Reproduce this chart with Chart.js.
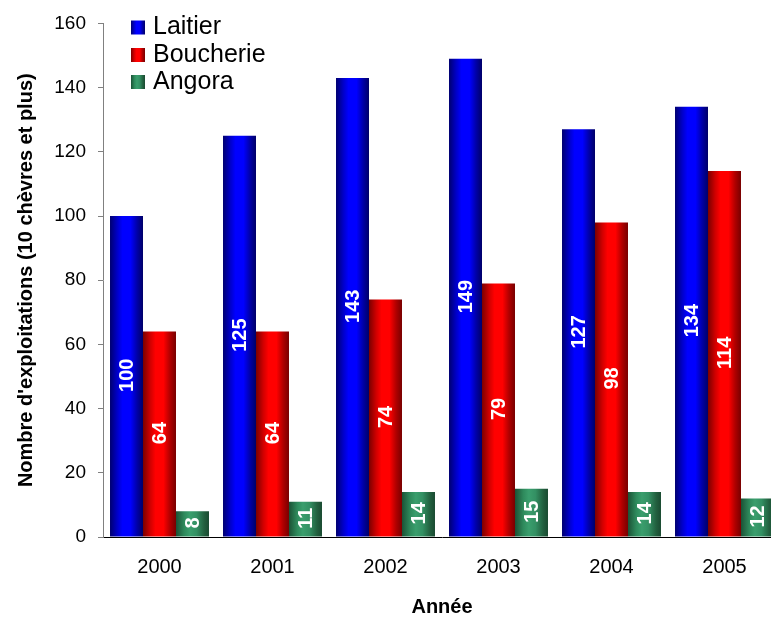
<!DOCTYPE html>
<html>
<head>
<meta charset="utf-8">
<script src="https://cdn.jsdelivr.net/npm/chart.js@4"></script>
<style>
html,body{margin:0;padding:0;overflow:hidden;background:#fff;}
#wrap{width:781px;height:619px;}
</style>
</head>
<body>
<div id="wrap"><canvas id="c" width="781" height="619"></canvas></div>
<script>
const categories = ['2000','2001','2002','2003','2004','2005'];
const laitier = [100,125,143,149,127,134];
const boucherie = [64,64,74,79,98,114];
const angora = [8,11,14,15,14,12];
const yTicks = [0,20,40,60,80,100,120,140,160];
const seriesNames = ['Laitier','Boucherie','Angora'];

const FONT = '"Liberation Sans", Arial, sans-serif';
const gradStops = [
  [[0,'#000070'],[0.22,'#0000c8'],[0.38,'#0000ff'],[0.62,'#0000ff'],[0.82,'#0000a8'],[1,'#000068']],
  [[0,'#7a0000'],[0.22,'#d00000'],[0.38,'#ff0000'],[0.62,'#ff0000'],[0.82,'#b00000'],[1,'#780000']],
  [[0,'#1b5236'],[0.25,'#2e8a5c'],[0.42,'#3a9e6d'],[0.62,'#339063'],[0.85,'#22603f'],[1,'#1a4a31']]
];
const baseColors = ['#0000ff','#ff0000','#339966'];
function makeGrad(ctx, x0, x1, i){
  const g = ctx.createLinearGradient(x0,0,x1,0);
  gradStops[i].forEach(s=>g.addColorStop(s[0],s[1]));
  return g;
}

const gradPlugin = {
  id:'grad',
  beforeDatasetsDraw(chart){
    const ctx = chart.ctx;
    chart.data.datasets.forEach((ds,i)=>{
      chart.getDatasetMeta(i).data.forEach(el=>{
        const p = el.getProps(['x','width'],true);
        el.options = Object.assign({}, el.options, {backgroundColor: makeGrad(ctx, p.x-p.width/2, p.x+p.width/2, i)});
      });
    });
  },
  afterDatasetsDraw(chart){
    const ctx = chart.ctx;
    ctx.save();
    ctx.font = 'bold 20px ' + FONT;
    ctx.fillStyle = '#ffffff';
    ctx.textAlign = 'center';
    ctx.textBaseline = 'middle';
    chart.data.datasets.forEach((ds,i)=>{
      chart.getDatasetMeta(i).data.forEach((el,j)=>{
        const p = el.getProps(['x','y','base'],true);
        ctx.save();
        ctx.translate(p.x+1, (p.y+p.base)/2 - 1);
        ctx.rotate(-Math.PI/2);
        ctx.fillText(String(ds.data[j]),0,0);
        ctx.restore();
      });
    });
    // legend
    ctx.font = '25px ' + FONT;
    ctx.textAlign = 'left';
    ctx.textBaseline = 'alphabetic';
    const baselines = [34, 61.5, 88.5];
    seriesNames.forEach((n,i)=>{
      const bx = 131, by = baselines[i]-13.5, bs = 14;
      ctx.fillStyle = makeGrad(ctx,bx,bx+bs,i);
      ctx.fillRect(bx,by,bs,bs);
      ctx.fillStyle = '#000000';
      ctx.fillText(n,153,baselines[i]);
    });
    ctx.restore();
  }
};

new Chart(document.getElementById('c'),{
  type:'bar',
  data:{
    labels:categories,
    datasets:[
      {label:seriesNames[0],data:laitier},
      {label:seriesNames[1],data:boucherie},
      {label:seriesNames[2],data:angora}
    ]
  },
  options:{
    responsive:false,
    animation:false,
    devicePixelRatio:1,
    layout:{padding:{top:20,right:0,bottom:0,left:0}},
    datasets:{bar:{categoryPercentage:0.876,barPercentage:1.0,borderWidth:0,
      backgroundColor:(c)=>baseColors[c.datasetIndex]}},
    plugins:{legend:{display:false},tooltip:{enabled:false}},
    scales:{
      x:{
        offset:true,
        grid:{display:false,drawTicks:false,tickLength:0},
        border:{display:true,color:'#000000',width:1},
        ticks:{color:'#000000',font:{family:FONT,size:20},padding:18},
        title:{display:true,text:'Année',color:'#000000',font:{family:FONT,size:20,weight:'bold'},padding:{top:0,bottom:0}},
        afterFit(s){s.height=82;}
      },
      y:{
        min:0,max:160,
        afterBuildTicks(s){s.ticks = yTicks.map(v=>({value:v}));},
        grid:{display:true,drawOnChartArea:false,drawTicks:true,tickLength:5,color:'#808080'},
        border:{display:true,color:'#808080',width:1},
        ticks:{color:'#000000',font:{family:FONT,size:19},padding:12},
        title:{display:true,text:"Nombre d'exploitations (10 chèvres et plus)",color:'#000000',font:{family:FONT,size:20,weight:'bold'},padding:{top:14,bottom:0}},
        afterFit(s){s.width=103;}
      }
    }
  },
  plugins:[gradPlugin]
});
</script>
</body>
</html>
